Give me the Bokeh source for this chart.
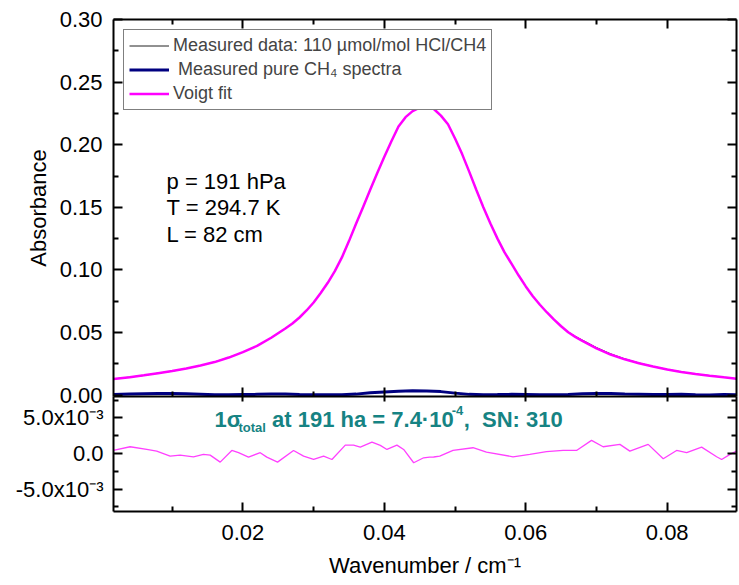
from bokeh.plotting import figure
from bokeh.models import (Range1d, LinearAxis, FixedTicker, Legend, LegendItem,
                          Label, PrintfTickFormatter, CustomLabelingPolicy)
from bokeh.layouts import column
from bokeh.embed import file_html
from bokeh.resources import INLINE

# ---------------- data ----------------
wn_fit = [0.0017, 0.004, 0.006, 0.008, 0.010, 0.012, 0.014, 0.016, 0.018, 0.020,
          0.022, 0.024, 0.026, 0.027, 0.028, 0.029, 0.030, 0.031, 0.032, 0.033,
          0.034, 0.035, 0.036, 0.037, 0.038, 0.039, 0.040, 0.041, 0.042, 0.043,
          0.044, 0.045, 0.0458, 0.0465, 0.047, 0.048, 0.049, 0.050, 0.051, 0.052,
          0.053, 0.054, 0.055, 0.056, 0.057, 0.058, 0.059, 0.060, 0.061, 0.062,
          0.063, 0.064, 0.065, 0.066, 0.067, 0.068, 0.070, 0.072, 0.074, 0.076,
          0.078, 0.080, 0.082, 0.084, 0.086, 0.088, 0.0898]
abs_fit = [0.0128, 0.0143, 0.0158, 0.0175, 0.0192, 0.0212, 0.0237, 0.0264, 0.0300, 0.0344,
           0.0393, 0.0458, 0.0532, 0.0572, 0.0620, 0.0676, 0.0740, 0.0815, 0.0897, 0.0990,
           0.1100, 0.1230, 0.1368, 0.1503, 0.1640, 0.1774, 0.1903, 0.2028, 0.2145, 0.2220,
           0.2268, 0.2297, 0.2306, 0.2301, 0.2285, 0.2232, 0.2163, 0.2050, 0.1925, 0.1785,
           0.1640, 0.1500, 0.1370, 0.1250, 0.1140, 0.1048, 0.0955, 0.0868, 0.0790, 0.0722,
           0.0660, 0.0603, 0.0550, 0.0502, 0.0465, 0.0433, 0.0373, 0.0324, 0.0286, 0.0255,
           0.0228, 0.0205, 0.0185, 0.0169, 0.0155, 0.0142, 0.0131]
abs_meas = [0.0129, 0.0144, 0.0157, 0.0176, 0.0191, 0.0213, 0.0236, 0.0265, 0.0301, 0.0343,
            0.0394, 0.0457, 0.0533, 0.0571, 0.0621, 0.0675, 0.0741, 0.0814, 0.0898, 0.0989,
            0.1101, 0.1229, 0.1369, 0.1502, 0.1641, 0.1773, 0.1904, 0.2027, 0.2146, 0.2219,
            0.2269, 0.2296, 0.2307, 0.2300, 0.2286, 0.2231, 0.2164, 0.2049, 0.1926, 0.1784,
            0.1641, 0.1499, 0.1371, 0.1249, 0.1141, 0.1047, 0.0956, 0.0867, 0.0791, 0.0721,
            0.0661, 0.0602, 0.0552, 0.0505, 0.0470, 0.0440, 0.0380, 0.0330, 0.0290, 0.0257,
            0.0229, 0.0206, 0.0186, 0.0168, 0.0156, 0.0143, 0.0131]

wn_ch4 = [0.0017, 0.004, 0.006, 0.008, 0.010, 0.012, 0.014, 0.016, 0.018, 0.020,
          0.022, 0.024, 0.026, 0.028, 0.030, 0.032, 0.034, 0.036, 0.038, 0.040,
          0.042, 0.044, 0.046, 0.048, 0.050, 0.052, 0.054, 0.056, 0.058, 0.060,
          0.062, 0.064, 0.066, 0.068, 0.070, 0.072, 0.074, 0.076, 0.078, 0.080,
          0.082, 0.084, 0.086, 0.088, 0.0898]
abs_ch4 = [0.0005, 0.0008, 0.0010, 0.0012, 0.0012, 0.0010, 0.0006, 0.0002, 0.0002, 0.0004,
           0.0006, 0.0008, 0.0008, 0.0005, 0.0003, 0.0002, 0.0003, 0.0008, 0.0018, 0.0025,
           0.0030, 0.0034, 0.0033, 0.0028, 0.0016, 0.0006, 0.0003, 0.0004, 0.0006, 0.0005,
           0.0003, 0.0002, 0.0004, 0.0010, 0.0013, 0.0012, 0.0008, 0.0006, 0.0004, 0.0005,
           0.0006, 0.0003, 0.0001, 0.0004, 0.0003]

wn_res = [0.00168, 0.00405, 0.0064, 0.00781, 0.00971, 0.01112, 0.01301, 0.01442, 0.01537, 0.01679,
          0.01843, 0.01938, 0.02079, 0.02245, 0.02338, 0.0249, 0.02716, 0.02858, 0.030, 0.03141,
          0.03259, 0.03448, 0.03565, 0.0366, 0.03825, 0.03943, 0.04037, 0.04178, 0.04273, 0.04415,
          0.04556, 0.04641, 0.04698, 0.04783, 0.04971, 0.05254, 0.05444, 0.0582, 0.06057, 0.06293,
          0.06528, 0.06718, 0.0693, 0.07094, 0.07331, 0.07472, 0.07731, 0.07944, 0.08133, 0.08275,
          0.08487, 0.08699, 0.0877, 0.08888, 0.0898]
residual = [0.00042, 0.00094, 0.00056, 0.00032, -0.00038, -0.00024, -0.00047, -0.00014, -0.00024, -0.00122,
            0.00042, 0.00010, -0.00052, 0.00010, -0.00052, -0.00122, 0.00042, -0.00038, -0.00085, -0.00038,
            -0.00085, 0.00117, 0.00117, 0.00089, 0.00160, 0.00113, 0.00056, 0.00117, 0.00056, -0.00131,
            -0.00061, -0.00052, -0.00050, -0.00038, 0.00042, 0.00080, 0.00018, -0.00047, -0.00014, 0.00024,
            0.00042, 0.00042, 0.00183, 0.00094, 0.00127, 0.00032, 0.00127, -0.00075, 0.00042, 0.00010,
            0.00089, -0.00047, -0.00085, -0.00014, 0.00032]

abs_ticks = [0.0, 0.05, 0.10, 0.15, 0.20, 0.25, 0.30]
abs_minor = [0.025, 0.075, 0.125, 0.175, 0.225, 0.275]
res_ticks = [-0.005, 0.0, 0.005]
res_minor = [-0.0075, -0.0025, 0.0025, 0.0075]
res_tick_labels = ["-5.0x10\u207b\u00b3", "0.0", "5.0x10\u207b\u00b3"]
wn_ticks = [0.02, 0.04, 0.06, 0.08]
wn_minor = [0.01, 0.03, 0.05, 0.07]

FONT = "Liberation Sans"
TEAL = "#168383"


def style_axis(ax, labels=True, major_in=9, minor_in=5):
    ax.axis_line_color = "black"
    ax.axis_line_width = 2
    ax.major_tick_line_color = "black"
    ax.major_tick_line_width = 2
    ax.minor_tick_line_color = "black"
    ax.minor_tick_line_width = 2
    ax.major_tick_in = major_in
    ax.major_tick_out = 0
    ax.minor_tick_in = minor_in
    ax.minor_tick_out = 0
    if labels:
        ax.major_label_text_font = FONT
        ax.major_label_text_font_size = "22px"
        ax.major_label_text_color = "black"
    else:
        ax.major_label_text_font_size = "0px"
        ax.major_label_standoff = 0
        ax.major_label_policy = CustomLabelingPolicy(
            code="const n = indices.size; for (let i = 0; i < n; i++) { indices.unset(i) } return indices")


xr = Range1d(0.0017, 0.0898)

# ---------------- top panel ----------------
top = figure(width=738, height=410, x_range=xr, y_range=Range1d(-0.0011, 0.30),
             output_backend="svg", toolbar_location=None,
             min_border_left=113, min_border_right=2, min_border_top=19, min_border_bottom=14)
top.grid.visible = False
top.outline_line_color = None

yl = top.yaxis[0]
yl.ticker = FixedTicker(ticks=abs_ticks, minor_ticks=abs_minor)
yl.formatter = PrintfTickFormatter(format="%.2f")
style_axis(yl)
yl.major_label_standoff = 11
yl.axis_label = "Absorbance"
yl.axis_label_text_font = FONT
yl.axis_label_text_font_size = "22px"
yl.axis_label_text_font_style = "normal"
yl.axis_label_text_color = "black"
yl.axis_label_standoff = 6

xb = top.xaxis[0]
xb.ticker = FixedTicker(ticks=wn_ticks, minor_ticks=wn_minor)
style_axis(xb, labels=False)

yr = LinearAxis(ticker=FixedTicker(ticks=abs_ticks, minor_ticks=abs_minor))
style_axis(yr, labels=False)
top.add_layout(yr, "right")
xa = LinearAxis(ticker=FixedTicker(ticks=wn_ticks, minor_ticks=wn_minor))
style_axis(xa, labels=False)
top.add_layout(xa, "above")

r_meas = top.line(wn_fit, abs_meas, line_color="#222222", line_width=1)
r_ch4 = top.line(wn_ch4, abs_ch4, line_color="#000080", line_width=3)
r_fit = top.line(wn_fit, abs_fit, line_color="#ff00ff", line_width=2.5)

legend = Legend(items=[
    LegendItem(label="Measured data: 110 \u00b5mol/mol HCl/CH4", renderers=[r_meas]),
    LegendItem(label=" Measured pure CH\u2084 spectra", renderers=[r_ch4]),
    LegendItem(label="Voigt fit", renderers=[r_fit]),
], location="top_left")
legend.margin = 10
legend.padding = 5
legend.spacing = 3
legend.glyph_width = 40
legend.label_standoff = 4
legend.label_text_font = FONT
legend.label_text_font_size = "18px"
legend.label_height = 21
legend.glyph_height = 21
legend.border_line_color = "black"
legend.border_line_width = 1
legend.background_fill_color = "white"
legend.background_fill_alpha = 1
top.add_layout(legend)

for txt, yy in [("p = 191 hPa", 0.1704), ("T = 294.7 K", 0.1499), ("L = 82 cm", 0.1286)]:
    top.add_layout(Label(x=0.0092, y=yy, text=txt, text_font=FONT, text_font_size="22px",
                         text_baseline="alphabetic", text_color="black"))

# ---------------- residual panel ----------------
bot = figure(width=738, height=187, x_range=xr, y_range=Range1d(-0.00816, 0.0080),
             output_backend="svg", toolbar_location=None,
             min_border_left=113, min_border_right=2, min_border_top=0, min_border_bottom=72,
             styles={"margin-top": "-14px"})
bot.grid.visible = False
bot.outline_line_color = None
bot.border_fill_alpha = 0

by = bot.yaxis[0]
by.ticker = FixedTicker(ticks=res_ticks, minor_ticks=res_minor)
by.major_label_overrides = dict(zip(res_ticks, res_tick_labels))
style_axis(by)
by.major_label_standoff = 10

bx = bot.xaxis[0]
bx.ticker = FixedTicker(ticks=wn_ticks, minor_ticks=wn_minor)
bx.formatter = PrintfTickFormatter(format="%.2f")
style_axis(bx)
bx.major_label_standoff = 13
bx.axis_label = "Wavenumber / cm\u207b\u00b9"
bx.axis_label_text_font = FONT
bx.axis_label_text_font_size = "22px"
bx.axis_label_text_font_style = "normal"
bx.axis_label_text_color = "black"
bx.axis_label_standoff = 10

byr = LinearAxis(ticker=FixedTicker(ticks=res_ticks, minor_ticks=res_minor))
style_axis(byr, labels=False)
bot.add_layout(byr, "right")
bxa = LinearAxis(ticker=FixedTicker(ticks=wn_ticks, minor_ticks=[]))
style_axis(bxa, labels=False, major_in=5, minor_in=0)
bot.add_layout(bxa, "above")

bot.line(wn_res, residual, line_color="#ff40ff", line_width=1.3)

for txt, xx, yy, size in [("1\u03c3", 0.01598, 0.00481, "22px"),
                          ("total", 0.01938, 0.00367, "13px"),
                          ("at 191 ha = 7.4\u00b710", 0.02412, 0.00481, "22px"),
                          ("-4", 0.04953, 0.00607, "13px"),
                          (",\u00a0\u00a0SN: 310", 0.05122, 0.00481, "22px")]:
    bot.add_layout(Label(x=xx, y=yy, text=txt, text_font=FONT, text_font_size=size,
                         text_font_style="bold", text_color=TEAL, text_baseline="alphabetic"))

layout = column(top, bot, spacing=0)
open("out.html", "w").write(file_html(layout, INLINE))
